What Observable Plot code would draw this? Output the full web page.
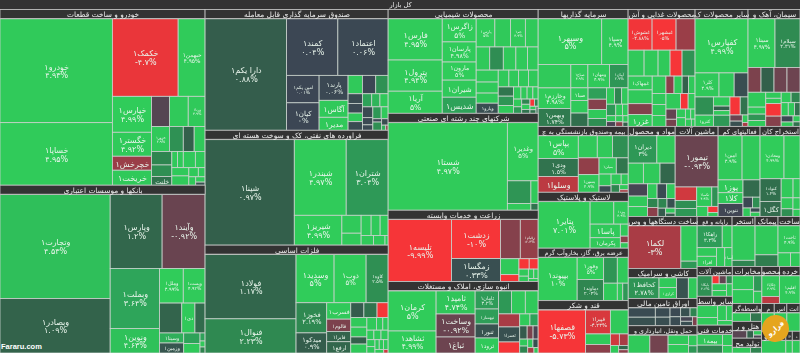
<!DOCTYPE html>
<html lang="fa">
<head>
<meta charset="utf-8">
<script src="https://cdn.jsdelivr.net/npm/d3@7"></script>
<script src="https://cdn.jsdelivr.net/npm/@observablehq/plot@0.6"></script>
<style>
html,body{margin:0;padding:0;background:#cfd3d0;width:800px;height:353px;overflow:hidden}
#wrap{position:relative;width:800px;height:353px}
#chart svg{display:block;filter:blur(.35px)}
#brand{position:absolute;left:1px;bottom:2px;color:#fff;font:bold 7.5px "Liberation Sans",sans-serif}
#logo{position:absolute;left:762px;top:315px;width:27px;height:27px;border-radius:50%;background:#e5a51e;color:#fff;font:bold 7px "DejaVu Sans",sans-serif;display:flex;align-items:center;justify-content:center;transform:rotate(-40deg)}
</style>
</head>
<body>
<div id="wrap"><div id="chart"></div><div id="brand">Fararu.com</div><div id="logo">فرارو</div></div>
<script>
const marketTitle = "کل بازار";
const autoCells = [["خودرو۱",11330,4.93],["خساپا۱",6820,4.95],["خکمک۱",4950,-4.7],["خبهمن۱",2025,4.95],["خپارس۱",1368,4.99],["خگستر۱",912,4.92],["خچرخش۱",532,-2.5],["خریخت۱",570,4.9],["",522,-0.5],["",551,4.9],["ورنا۱",493,4.9],["خزور۱",432,4.9],["",336,2.6],["",264,1],["",264,4.9],["",266,2],["",228,2.5],["خلنت",170,1.5],["",90,4.9],["",90,4.9],["",190,4.9],["",153,4.9],["",136,4.9],["",153,4.9],["",84,4.9],["",60,4.9],["",56,4.9],["",48,4.9],["",28,0.5]];
const bankCells = [["وتجارت۱",11340,4.53],["وبصادر۱",5940,1.09],["وپارس۱",3796,1.2],["وآیند۱",3139,-0.92],["وبملت۱",2928,3.64],["ونوین۱",1200,4.63],["وملل۱",816,4.99],["وپست۱",748,4.92],["",660,1.1],["دی۱",390,4.9],["",300,1.3],["وسینا۱",240,4],["وزمین۱",240,0.6],["",170,3.5],["",153,4.9],["",40,3.5],["",30,4.9],["",30,2]];
const fundCells = [["دارا یکم۱",8800,0.88],["کمند۱",2808,0.04],["اعتماد۱",2754,0.06],["امین یکم۱",864,0.01],["کیان۱",864,0],["پارند۱",700,0.06],["آگاس۱",476,4.9],["مدیر۱",364,4.9],["",255,4.9],["",238,0],["",221,2.6],["",135,0.2],["",135,0.1],["",120,4.9],["",120,0.2],["",117,3.5],["",104,4.2],["",104,4.9],["",108,0.2],["",72,0.1],["",54,0.1],["",96,3],["",80,4.9],["",28,0],["",70,2.5],["",40,0.3],["",20,4],["",12,-2]];
const oilCells = [["شپنا۱",9345,0.97],["شبندر۱",3900,4.97],["شتران۱",3150,3.04],["شیریز۱",1410,4.99],["",342,4.9],["",228,4.9],["",200,4.9],["",180,4.9],["",160,4.9],["",120,4.9],["",110,4.9],["",30,4.9]];
const metalCells = [["فولاد۱",5696,1.17],["فنوال۱",3026,2.23],["وسدید۱",1786,5],["ذوب۱",1504,5],["کاوه۱",1034,2.5],["فخوز۱",900,2.19],["میدکو۱",600,0.9],["فسرب۱",384,4.9],["فالوم۱",288,-1.5],["فایرا۱",240,1.1],["ارفع۱",264,1.2],["",190,0.8],["",190,1.5],["",160,-5],["",150,4.9],["",154,4.9],["",112,1],["",140,4.9],["",117,4.9],["",78,4.9],["",65,4.9],["",65,4.9],["",66,4.9],["",66,4.9],["",55,4.9],["",50,4.9],["",40,4.9],["",40,4.9],["",45,4.9],["",30,4.9],["",15,-4]];
const chemCells = [["فارس۱",2091,4.95],["پترول۱",1581,4.94],["آریا۱",1122,5],["زاگرس۱",736,5],["پارسان۱",640,4.98],["مارون۱",576,5],["شیران۱",544,4.9],["شدیس۱",512,3.5],["پارس۱",494,5],["",416,4.9],["جم۱",390,4.9],["",338,4.9],["",294,4.9],["",294,2.4],["",273,4.9],["",252,4.9],["",231,4.9],["",247,4.9],["",228,4.9],["",209,4.9],["ویارو۱",209,0.3],["",168,4.9],["",154,4.9],["",154,4.9],["",154,4.9],["",132,1.6],["",135,2.8],["",110,4.9],["",85,4.9],["",70,4.9],["",66,4.9],["",60,4.9],["",60,4.9],["",50,3],["",40,2],["",40,4.9],["",30,1.5],["",30,-5],["",25,2],["",20,4.9],["",20,1.5],["",14,1.2]];
const holdingCells = [["شستا۱",10296,4.97],["وغدیر۱",1767,5],["",529,2.8],["",154,4.9],["",161,4.9],["",49,1.5]];
const farmCells = [["تلیسه۱",3844,-9.99],["زدشت۱",1872,-10],["زمگسا۱",1104,0.33],["",760,-1.8],["زقیام۱",684,-2.3],["",288,4.9],["",126,-5],["",104,-5],["",91,-5],["",65,4.9],["",50,4.9],["",50,4.9],["",40,4.9],["",30,4.9]];
const buildCells = [["کرمان۱",1720,5],["ثشاهد۱",946,4.99],["ثامید۱",805,4.74],["وساخت۱",805,-0.92],["ثباغ۱",560,-1],["ثامان۱",378,3.2],["ثبهساز۱",315,3.3],["ثنور۱",294,0.5],["ثرود۱",315,4.9],["",264,3],["",286,4.9],["",264,4.9],["",247,-3],["ثعمرا۱",285,0.4],["",209,-5],["",110,4.9],["",88,3.5],["",88,0.8],["",70,-1.5],["",60,-0.3],["",50,4.9],["",50,2],["",40,4.9],["",40,0.4],["",30,-3],["",20,4.9]];
const investCells = [["وسپهر۱",2650,5],["وسپا۱",1100,4.9],["",700,4.9],["وخارزم۱",616,4.98],["وبهمن۱",532,1.74],["صباح۱",364,4.9],["ومهان۱",462,4.9],["آپیان۱",396,2.9],["صبا۱",198,4.9],["",198,4.9],["",209,1.4],["",190,3.4],["",171,-1.8],["",152,4.9],["",132,2.5],["",120,4.9],["",108,2],["",96,4.9],["",99,3],["",70,4.9],["",60,4.9],["",50,4.9],["",40,-0.3],["",40,4.9],["",30,-2],["",30,4.9],["",20,1]];
const foodCells = [["غشوش۱",696,-4.88],["غبشهر۱",696,-5],["",551,-2.5],["",384,4.9],["",336,4.9],["",288,4.9],["",288,-5],["",312,2.7],["غمهاک۱",308,4.9],["",308,4.9],["",242,-1.7],["غزر۱",264,4.9],["",221,4.9],["",130,-2],["",130,4.9],["",104,1],["",104,4.9],["",140,4.9],["",140,4.9],["",140,4.9],["",210,4.9],["",110,-5],["",100,4.9],["",100,-0.8],["",70,-1.3],["",70,4.9],["",70,4.9],["",50,4.9],["",40,4.9],["",40,4.9],["",25,4.9]];
const otherMineralCells = [["کفپارس۱",2650,4.99],["کلر۱",532,4.9],["",336,4.9],["",308,0.3],["",308,2.5],["کترو۱",190,4.9],["",140,4.9],["",70,1],["",70,4.9],["",171,3],["",171,-5],["",130,1.5],["",70,-1],["",60,0.4],["",40,4.9],["",20,-3]];
const cementCells = [["سیتا۱",1269,4.97],["سیلام۱",1175,2.31],["",312,-1.5],["",312,1],["",312,-1],["",312,-1],["",255,4.9],["",120,4.9],["",110,2.8],["",100,4.9],["",90,4.9],["",80,4.9],["",187,-5],["",153,-1.8],["",100,4.9],["",90,2],["",90,4.9],["",80,4.9],["",70,1.5],["",70,0.1],["",50,4.9],["",40,4.9],["",30,1.5]];
const insureCells = [["بپاس۱",851,5],["ودی۱",666,1.5],["وسلوا۱",592,-3.5],["",390,4.9],["",312,4.9],["",324,2.5],["",324,-2.2],["بسین۱",340,4.9],["بمیلن۱",260,4.9],["",180,1.6],["",132,4.9],["",72,0.2],["",100,4.9],["",70,4.9],["",60,2],["",40,4.9],["",20,-3]];
const materialCells = [["دیران۱",500,3],["",320,4.9],["",200,4.9],["",220,4.9],["",200,1.2],["",150,-0.2],["",130,4.9],["",120,4.9],["",90,4.9],["",90,0.2],["",80,4.9],["",60,2],["",60,-2],["",55,2],["",50,0.4],["",40,0.8],["",30,4.9],["",20,1]];
const machineCells = [["تیمور۱",2150,-0.93],["",285,-4],["",170,2.5],["",165,3],["تکمبا۱",285,4.9],["",120,2.6],["",110,4.9],["",60,-5],["",40,4.9]];
const lowCells = [["امین۱",1032,4.9],["",774,4.9],["یوز۱",312,4.9],["کلا۱",264,4.9],["نتوین۱",312,-0.1],["",288,1.3],["",100,0.1],["",80,2.5],["",60,4.9],["",40,0.2],["",40,4.9]];
const mineCells = [["ومعادن۱",1032,4.99],["",688,4.9],["کنواد۱",483,1.4],["کگل۱",315,1.3],["",228,4.9],["",133,4.9],["",130,4.9],["",90,2.5],["",80,4.9],["",50,4.9]];
const rubberCells = [["پتایر۱",2295,7.01],["",506,4.9],["پیزد۱",308,4.9],["پاسا۱",390,4.9],["پکرمان۱",300,4.9],["",90,4.9],["",50,-2],["",40,4.9]];
const powerCells = [["بپیوند۱",1584,10],["وفور۱",550,5],["دماوند۱",525,2.04],["",330,2.8],["",264,4.9],["",225,4.9],["",90,4.9],["",90,3]];
const sugarCells = [["قصفها۱",1978,-5.73],["قپیرا۱",575,-4.23],["",414,4.9],["",253,4.9],["",207,-2],["",99,-4],["",99,-3],["",60,4.9],["",40,1.2],["",30,-2]];
const deviceCells = [["لکما۱",2132,-3],["",544,4.9],["",112,3]];
const tileCells = [["کحافظ۱",525,2.78],["",140,4.9],["کرازی۱",160,4.9],["",200,0.5],["",150,4.9]];
const bondCells = [["",240,0.2],["",220,0.4],["",130,0.2],["",120,0.3],["",90,0.1],["",90,0.2],["",80,0.4],["",60,2],["",50,-0.2],["",50,0.3],["",40,-1.5]];
const transportCells = [["",380,4.9],["",320,-1.2],["",190,4.9],["",170,4.9],["",90,4.9],["",60,3]];
const itCells = [["راهکا۱",560,3.2],["",220,4.9],["",170,4.9],["افرا۱",200,4.9],["",160,4.9],["آسیا۱",140,4.9]];
const extractCells = [["",900,4.9],["",160,2]];
const contractCells = [["",750,4.9],["",300,1.8]];
const constructCells = [["ثاخت۱",700,4.9],["",200,4.9],["",150,4.9]];
const machine2Cells = [["بایکا۱",380,2.6],["",70,-5],["",70,-0.8],["",60,2],["",120,4.9],["",100,4.9],["",90,4.9]];
const midCells = [["",360,4.9],["",230,4.9],["",190,4.9],["",130,4.9],["",100,4.9]];
const serviceCells = [["بیمه۱",380,4.9],["",280,2],["",150,4.9],["",100,4.9]];
const telecomCells = [["",350,4.9],["",350,4.9],["",150,3],["",120,4.9]];
const prodCells = [["چکاپا۱",380,4.9],["",130,-3.5]];
const retailCells = [["اقلیم۱",510,4.9]];
const brokerCells = [["",300,4.9],["",180,1.6]];
const mCells = [["",170,4.9]];
const asCells = [["",160,4.9]];
const anCells = [["",150,4.9]];
const hotelCells = [["",220,-0.6],["",100,1],["",70,4.9],["",50,-0.3]];
const manuCells = [["",100,4.9],["",60,2]];
const tjCells = [["",120,4.9]];
const haulCells = [["",160,4.9]];
const dCells = [["",120,4.9]];

const sectorNames = ["خودرو و ساخت قطعات","بانکها و موسسات اعتباری","صندوق سرمایه گذاری قابل معامله","فراورده های نفتی، کک و سوخت هسته ای","فلزات اساسی","محصولات شیمیایی","شرکتهای چند رشته ای صنعتی","زراعت و خدمات وابسته","انبوه سازی، املاک و مستغلات","سرمایه گذاریها","محصولات غذایی و آش","سایر محصولات ک","سیمان، آهک و","بیمه وصندوق بازنشستگی به چ","مواد و محصول","ماشین آلات","فعالیتهای کم","استخراج کان","لاستیک و پلاستیک","ساخت دستگاهها و وس","کاشی و سرامیک","اوراق تامین مالی","حمل ونقل، انبارداری و","رایانه و فع","استخر","پیمانک","ساخت","ماشین آلات","سایر واسط","خدمات فنی","مخابرات","محصو","خرده","واسطه‌گر","م","اس","انت","هتل و ر","تولید مح","تج","حمل و","د","عرضه برق، گاز، بخار‌وآب گرم","قند و شکر"];
const sectorTotals = [36080,34440,22143,21045,19764,15600,14550,10720,10720,10530,7839,6201,6084,5940,4230,3870,3780,3600,5040,3588,2070,1880,1880,1750,1150,1150,1100,1050,1015,980,1100,650,766,522,350,350,364,493,435,140,528,168,4730,4720];
const sectorCells = [autoCells,bankCells,fundCells,oilCells,metalCells,chemCells,holdingCells,farmCells,buildCells,investCells,foodCells,otherMineralCells,cementCells,insureCells,materialCells,machineCells,lowCells,mineCells,rubberCells,deviceCells,tileCells,bondCells,transportCells,itCells,extractCells,contractCells,constructCells,machine2Cells,midCells,serviceCells,telecomCells,prodCells,retailCells,brokerCells,mCells,asCells,anCells,hotelCells,manuCells,tjCells,haulCells,dCells,powerCells,sugarCells];
// Visual order of the sectors, as the map lays them out
const sectorOrder = [0,1,2,3,4,5,6,7,8,9,10,11,12,13,18,42,43,14,15,16,17,19,20,21,22,23,24,25,26,27,28,29,30,31,32,33,37,38,34,35,36,40,39,41];

const colorDomain = [-5,-3,-1,0,1,2,3.6,5];
const colorRange = ["#f63538","#a93c45","#6d4450","#3c4654","#33604b","#2f8550","#2ea45a","#30cc5a"];

const sectorList = sectorOrder.map(i => {
  const k = sectorTotals[i] / d3.sum(sectorCells[i], c => c[1]);
  return {name: sectorNames[i], children: sectorCells[i].map(([name, v, change]) => ({name, value: v * k, change}))};
});
const root = d3.hierarchy({name: marketTitle, children: sectorList}).sum(d => d.value || 0);
d3.treemap().size([800, 353]).paddingTop(d => d.depth < 2 ? 9.4 : 0)(root);

const leaves = root.leaves();
const sectors = root.children;
const fa = s => s.replace(/\d/g, c => "۰۱۲۳۴۵۶۷۸۹"[c]);
const named = leaves.filter(d => d.data.name);
const w = d => d.x1 - d.x0, h = d => d.y1 - d.y0;
const twoLines = d => h(d) >= 17.5 && w(d) >= 14;
const label = d => twoLines(d)
  ? d.data.name + "\n" + fa(String(d.data.change)) + "%"
  : d.data.name;
const labelSize = d => Math.max(3.6, Math.min(8, (w(d) - 2) / (Math.max(d.data.name.length, twoLines(d) ? 6 : 0) * 0.72), h(d) / (twoLines(d) ? 2.9 : 1.3)));
const headSize = d => Math.min(7.4, 1.9 * w(d) / Math.max(d.data.name.length, 4));

const chart = Plot.plot({
  width: 800, height: 353,
  margin: 0,
  x: {domain: [0, 800], range: [0, 800], axis: null},
  y: {domain: [0, 353], range: [0, 353], axis: null},
  color: {type: "linear", domain: colorDomain, range: colorRange, clamp: true},
  style: {background: "#cfd3d0", fontFamily: "'DejaVu Sans',sans-serif"},
  marks: [
    Plot.rect(leaves, {x1: "x0", x2: "x1", y1: "y0", y2: "y1", fill: d => d.data.change, stroke: "#c9d2cc", strokeWidth: 0.8}),
    Plot.rect([root], {x1: "x0", x2: "x1", y1: "y0", y2: d => d.y0 + 9, fill: "#333333"}),
    Plot.rect(sectors, {x1: "x0", x2: "x1", y1: "y0", y2: d => d.y0 + 9, fill: "#333333", stroke: "#c2c2c2", strokeWidth: 0.8}),
    Plot.text([root], {x: d => (d.x0 + d.x1) / 2, y: d => d.y0 + 4.5, text: d => d.data.name, fill: "#eee", fontSize: 6.5}),
    Plot.text(sectors, {x: d => (d.x0 + d.x1) / 2, y: d => d.y0 + 4.7, text: d => d.data.name, fill: "#eee", fontSize: headSize}),
    Plot.text(named, {x: d => (d.x0 + d.x1) / 2, y: d => (d.y0 + d.y1) / 2, text: label, fill: "#e9f5ec", fontSize: labelSize, lineHeight: 1.1})
  ]
});
document.getElementById("chart").appendChild(chart);
</script>
</body>
</html>
